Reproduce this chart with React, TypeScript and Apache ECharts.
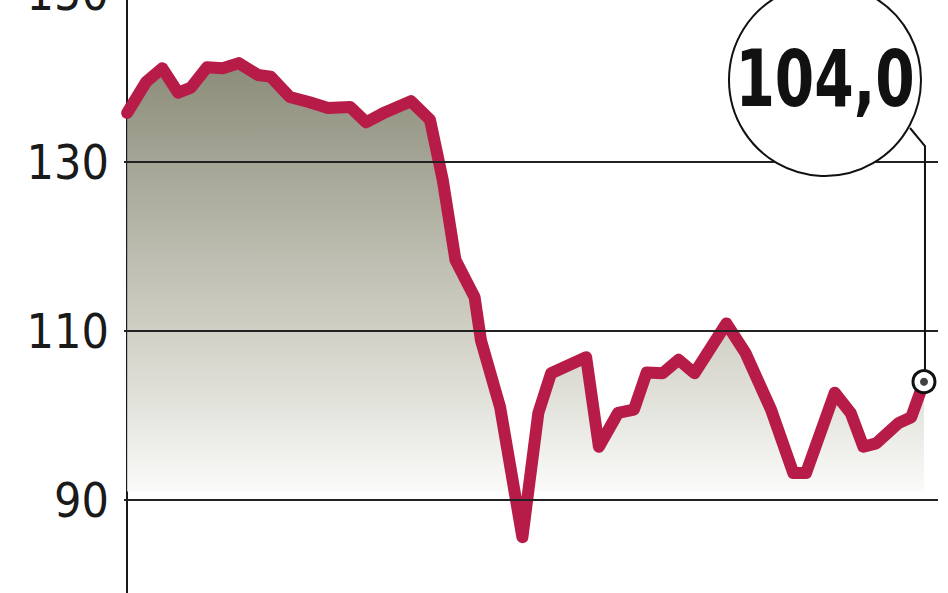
import React, { useEffect, useRef } from 'react';
import * as echarts from 'echarts';

// trading days (x) and index level (y)
const days = [0, 6, 11, 16, 20, 25, 30, 35, 41, 45, 51, 57, 63, 70, 75, 81, 89, 95, 99, 103, 109, 111, 117, 124, 129, 133, 144, 148, 154, 159, 163, 168, 173, 178, 188, 194, 202, 209, 213, 222, 227, 231, 235, 242, 246, 250];
const index = [135.8, 139.5, 141.1, 138.2, 138.8, 141.2, 141.1, 141.7, 140.3, 140.1, 137.7, 137.1, 136.4, 136.5, 134.7, 135.9, 137.2, 135.0, 127.9, 118.4, 114.0, 108.9, 101.0, 85.6, 100.3, 105.0, 106.9, 96.3, 100.3, 100.7, 105.1, 105.0, 106.6, 105.0, 110.9, 107.4, 100.7, 93.2, 93.2, 102.7, 100.3, 96.3, 96.7, 99.1, 99.8, 104.0];
const gridValues = [130, 110, 90];
const yTicks = [90, 110, 130, 150];
const yMin = 70;
const yMax = 150;
const yStep = 20;
const lastLabel = '104,0';

const RED = '#b71c48';
const labelFont = "'Liberation Sans Narrow', 'DejaVu Sans Condensed', sans-serif";

const App = () => {
  const chartRef = useRef<HTMLDivElement>(null);

  useEffect(() => {
    if (!chartRef.current) return;
    const chart = echarts.init(chartRef.current, null, { renderer: 'svg' });

    const points = days.map((d, i) => [d, index[i]]);
    const last = points[points.length - 1];

    chart.setOption({
      animation: false,
      grid: { left: 124, right: 10, top: -7, height: 676, outerBoundsMode: 'none' },
      xAxis: {
        type: 'value',
        min: -1,
        max: 254.4,
        show: false,
      },
      yAxis: {
        type: 'value',
        min: yMin,
        max: yMax,
        interval: yStep,
        axisLine: { show: true, lineStyle: { color: '#1a1a1a', width: 2 } },
        axisTick: { show: false },
        splitLine: { show: false },
        axisLabel: {
          color: '#1a1a1a',
          fontSize: 48,
          fontFamily: labelFont,
          margin: 15,
          formatter: (v: number) => (yTicks.includes(v) ? String(v) : ''),
        },
      },
      series: [
        {
          type: 'line',
          data: points,
          z: 1,
          symbol: 'none',
          lineStyle: { opacity: 0 },
          areaStyle: {
            origin: 91,
            opacity: 1,
            color: {
              type: 'linear',
              global: true,
              x: 0, y: 60, x2: 0, y2: 495,
              colorStops: [
                { offset: 0, color: '#8b8b79' },
                { offset: 0.6, color: '#cdcdc2' },
                { offset: 1, color: '#fbfbfa' },
              ],
            },
          },
          silent: true,
        },
        {
          type: 'line',
          data: [],
          z: 2,
          markLine: {
            silent: true,
            symbol: 'none',
            label: { show: false },
            lineStyle: { color: '#222', width: 2, type: 'solid' },
            data: gridValues.map((v) => ({ yAxis: v })),
          },
        },
        {
          type: 'line',
          z: 3,
          data: points.map((p, i) =>
            i === points.length - 1
              ? {
                  value: p,
                  symbol: 'circle',
                  symbolSize: 22,
                  itemStyle: { color: '#fff', borderColor: '#111', borderWidth: 3 },
                }
              : { value: p, symbol: 'none' }
          ),
          showSymbol: true,
          lineStyle: { color: RED, width: 12, join: 'round', cap: 'round' },
          silent: true,
        },
        {
          type: 'scatter',
          z: 4,
          data: [last],
          symbolSize: 8,
          itemStyle: { color: '#111' },
          silent: true,
        },
      ],
    });

    const [mx, my] = chart.convertToPixel({ gridIndex: 0 }, last) as number[];

    chart.setOption({
      graphic: [
        {
          type: 'polyline',
          z: 100,
          shape: { points: [[910, 128], [mx + 1, 146], [mx + 1, my - 12]] },
          style: { stroke: '#111', lineWidth: 2, fill: null },
          silent: true,
        },
        {
          type: 'circle',
          z: 101,
          shape: { cx: 825, cy: 80, r: 96 },
          style: { fill: '#fff', stroke: '#111', lineWidth: 2 },
          silent: true,
        },
        {
          type: 'text',
          z: 102,
          x: 825,
          y: 79,
          scaleY: 1.25,
          style: {
            text: lastLabel,
            fill: '#111',
            fontSize: 63,
            fontWeight: 'bold',
            fontFamily: labelFont,
            align: 'center',
            verticalAlign: 'middle',
          },
          silent: true,
        },
      ],
    });

    return () => {
      chart.dispose();
    };
  }, []);

  return (
    <div
      ref={chartRef}
      style={{ position: 'fixed', left: 0, top: 0, width: 948, height: 593, background: '#fff' }}
    />
  );
};

export default App;
